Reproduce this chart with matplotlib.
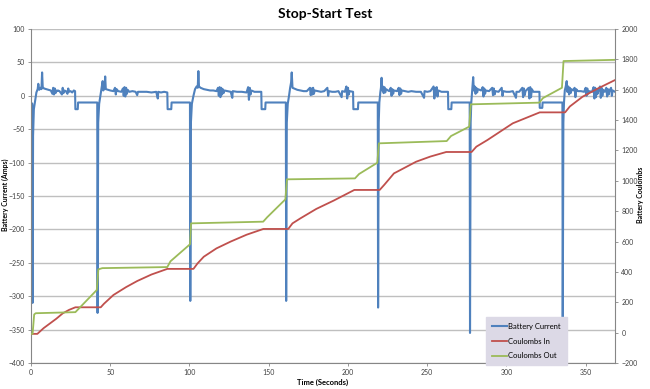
import matplotlib.pyplot as plt

plt.rcParams["font.family"] = ["Lato", "DejaVu Sans"]

# Battery current (A) vs time (s)
time_s = [
    0, 0.8, 1.0, 1.3, 1.8, 2.6, 3.4, 4.2, 4.6, 5.2, 6.0, 6.6, 7.0, 7.4, 8.2, 9.5, 11, 12.5,
    13.5, 14, 14.5, 15, 15.5, 16, 16.5, 17, 18, 19.5, 20, 20.5, 21, 22, 23, 23.5, 24, 25,
    26, 27, 27.8, 28.0, 29.5, 29.7, 41.5,
    41.8, 42.0, 42.4, 43.0, 43.8, 44.5, 45.2, 45.6, 46.4, 46.8, 47.2, 48.5, 50, 52, 53,
    53.5, 54, 55, 57, 58, 58.5, 59, 59.5, 60, 60.5, 61, 62, 64, 66, 67, 67.5, 70, 73, 76,
    79, 80, 80.3, 82, 84, 86, 86.2, 88.5, 88.7, 100.3,
    100.5, 100.9, 101.5, 102.5, 103.5, 104.5, 105.2, 105.6, 106.0, 107, 109, 111, 113,
    115, 117, 118, 118.5, 119, 119.5, 120, 120.5, 121, 121.5, 122, 124, 126, 127, 127.3,
    130, 133, 136, 137, 137.5, 138, 138.5, 139, 141, 143, 145.3, 145.5, 147.8, 148, 160.8,
    161.0, 161.4, 162, 162.8, 163.5, 164.1, 164.5, 165, 166, 168, 170, 172, 174, 176,
    176.5, 177, 177.5, 178, 178.5, 179, 181, 183, 185, 187, 187.5, 188, 190, 192, 194,
    196, 196.3, 198, 199, 199.5, 200, 200.5, 201, 203.2, 203.4, 206.3, 206.5, 218.8,
    219.0, 219.4, 219.8, 220.4, 220.8, 221.2, 221.6, 222, 222.5, 223, 223.5, 224, 226,
    227, 227.5, 228, 228.5, 229, 231, 232, 232.5, 233, 233.5, 234, 236, 238, 240, 243,
    246, 248, 248.3, 250, 252, 254, 254.5, 255, 255.5, 256, 256.5, 257, 259, 261, 263.1,
    263.3, 265.2, 265.4, 276.8,
    277.0, 277.4, 277.8, 278.4, 279.0, 279.4, 280, 280.5, 281, 281.5, 282, 284, 285,
    285.5, 286, 286.5, 287, 289, 291, 291.5, 292, 292.5, 293, 295, 297, 297.5, 298, 300,
    302, 304, 306, 306.3, 308, 310, 310.5, 311, 311.5, 312, 314, 314.5, 315, 315.5, 316,
    317, 320.8, 321, 322.6, 322.8, 335.3,
    335.5, 335.9, 336.3, 336.8, 337.4, 338, 338.4, 339, 339.5, 340, 340.5, 341, 342, 343,
    343.5, 344, 345, 347, 349, 350, 350.5, 351, 351.5, 352, 354, 355, 355.5, 356, 356.5,
    357, 357.5, 358, 359, 359.5, 360, 360.5, 361, 362, 363, 363.5, 364, 364.5, 365, 366,
    366.5, 367, 368.5,
]
current_a = [
    -10, -12, -310, -60, -20, -8, 5, 10, 18, 9, 12, 10, 35, 13, 11, 10, 9, 8,
    3, 12, 2, 11, 4, 8, 7, 8, 7, 2, 12, 4, 8, 7, 3, 11, 6, 7,
    5, 8, 7, -20, -20, -10, -10,
    -10, -325, -40, -12, 0, 10, 22, 8, 12, 29, 10, 9, 8, 7, 12,
    2, 10, 7, 6, 11, 0, 13, -1, 12, 3, 9, 6, 7, 6, 1, 6, 6, 6, 5,
    6, -4, 6, 5, 6, 5, -20, -20, -10, -10,
    -307, -40, -12, 0, 10, 14, 12, 37, 14, 12, 10, 9, 8,
    8, 7, 12, 0, 13, -2, 12, 2, 10, 4, 8, 7, 6, -3, 7,
    6, 6, 5, 13, -6, 12, 2, 8, 6, 6, 6, -20, -20, -10, -10,
    -307, -40, -12, 0, 12, 20, 35, 12, 11, 9, 8, 7, 7, 12,
    1, 11, 2, 12, 3, 8, 7, 6, 7, 12, 0, 7, 6, 6, 7,
    -2, 7, 6, 14, -4, 12, 2, 7, 6, -20, -20, -10, -10,
    -317, -40, -10, 5, 12, 27, 8, 14, 4, 13, 5, 10, 7,
    12, 0, 10, 3, 8, 7, 12, 1, 11, 3, 8, 7, 6, 7, 6,
    6, -3, 7, 6, 7, 14, -4, 12, 2, 13, -1, 8, 6, 6, 6,
    -20, -20, -10, -10,
    -355, -40, -10, 8, 28, 8, 14, 3, 12, 5, 10, 8, 13,
    -1, 11, 3, 8, 7, 12, 1, 11, 2, 7, 6, 12, 0, 7, 6,
    6, 7, -3, 6, 6, 12, -2, 11, 1, 7, 12, -4, 13, -2, 10,
    6, 6, -18, -18, -10, -10,
    -347, -40, -10, 8, 14, 22, 6, 14, 2, 12, 4, 10, 8, 12,
    -2, 10, 7, 7, 6, 12, 0, 11, 3, 7, 6, 13, -4, 12, -2,
    10, 3, 8, 14, -3, 12, 0, 9, 6, 12, -1, 10, 2, 8, 12,
    0, 8, 6,
]

# Coulombs in (red) and out (green), secondary axis
t_in = [0, 4, 8, 12, 16, 20, 24, 28, 44, 46, 52, 60, 67, 76, 86, 102.5, 105, 109, 117,
        126, 136, 146.6, 162.3, 165, 170, 180, 191, 204, 220, 223, 229, 243, 252, 262,
        278, 281, 288, 304, 321, 337, 340, 348, 358, 368.5]
coulombs_in = [-8, -8, 30, 61, 92, 127, 150, 167, 167, 190, 248, 300, 340, 383, 420, 420,
               455, 500, 555, 600, 645, 683, 683, 720, 753, 815, 870, 940, 940, 975, 1049,
               1126, 1160, 1190, 1190, 1225, 1269, 1379, 1451, 1451, 1490, 1554, 1610, 1664]

t_out = [0, 1, 2, 3, 28, 41.5, 42.5, 45, 86, 88, 100.3, 101, 146.5, 149, 160.5, 161.5,
         204.4, 207, 218.5, 219.5, 262.3, 265, 276.5, 277.5, 320.7, 323, 335, 336, 368.5]
coulombs_out = [-8, -8, 120, 128, 135, 281, 417, 425, 432, 470, 582, 720, 731, 760, 878,
                1010, 1016, 1045, 1119, 1247, 1262, 1295, 1357, 1504, 1515, 1545, 1613,
                1789, 1797]

BLUE = "#4F81BD"
RED = "#C0504D"
GREEN = "#9BBB59"
GRID = "#BFBFBF"
AXIS = "#868686"

fig = plt.figure(figsize=(6.5, 3.89), dpi=100)
ax = fig.add_axes([0.0477, 0.0668, 0.8985, 0.8586])
ax2 = ax.twinx()

l1, = ax.plot(time_s, current_a, color=BLUE, linewidth=1.5, label="Battery Current")
l2, = ax2.plot(t_in, coulombs_in, color=RED, linewidth=1.3, label="Coulombs In")
l3, = ax2.plot(t_out, coulombs_out, color=GREEN, linewidth=1.3, label="Coulombs Out")

ax.set_xlim(0, 368.5)
ax.set_ylim(-400, 100)
ax.set_yticks(range(-400, 101, 50))
ax.set_xticks(range(0, 351, 50))
ax2.set_ylim(-200, 2000)
ax2.set_yticks(range(-200, 2001, 200))

ax.grid(True, axis="y", color=GRID, linewidth=1.0)
ax.set_axisbelow(True)

for a in (ax, ax2):
    a.spines["top"].set_visible(False)
    for s in ("left", "right", "bottom"):
        a.spines[s].set_color(AXIS)
        a.spines[s].set_linewidth(0.8)
    a.tick_params(labelsize=5, colors="#404040", length=2.5, width=0.6, color=AXIS,
                  pad=2)
ax.spines["right"].set_visible(False)
ax2.spines["left"].set_visible(False)
ax2.spines["bottom"].set_visible(False)

fig.text(0.5, 0.963, "Stop-Start Test", fontsize=10, fontweight="bold",
         ha="center", va="center")
ax.set_xlabel("Time (Seconds)", fontsize=5.5, fontweight="bold", labelpad=2)
fig.text(0.008, 0.5, "Battery Current (Amps)", fontsize=5, fontweight="bold",
         rotation=90, ha="center", va="center")
fig.text(0.985, 0.5, "Battery Coulombs", fontsize=5, fontweight="bold",
         rotation=90, ha="center", va="center")

leg = fig.legend(
    handles=[l1, l2, l3], loc="upper left", bbox_to_anchor=(0.742, 0.195),
    fontsize=5.5, frameon=True, fancybox=False, handlelength=1.9,
    handletextpad=0.2, labelspacing=1.0, borderpad=0.8,
)
leg.get_frame().set_facecolor("#DCD9E6")
leg.get_frame().set_edgecolor("#DCD9E6")
leg.get_frame().set_alpha(1)

fig.savefig("out.png", dpi=100)
